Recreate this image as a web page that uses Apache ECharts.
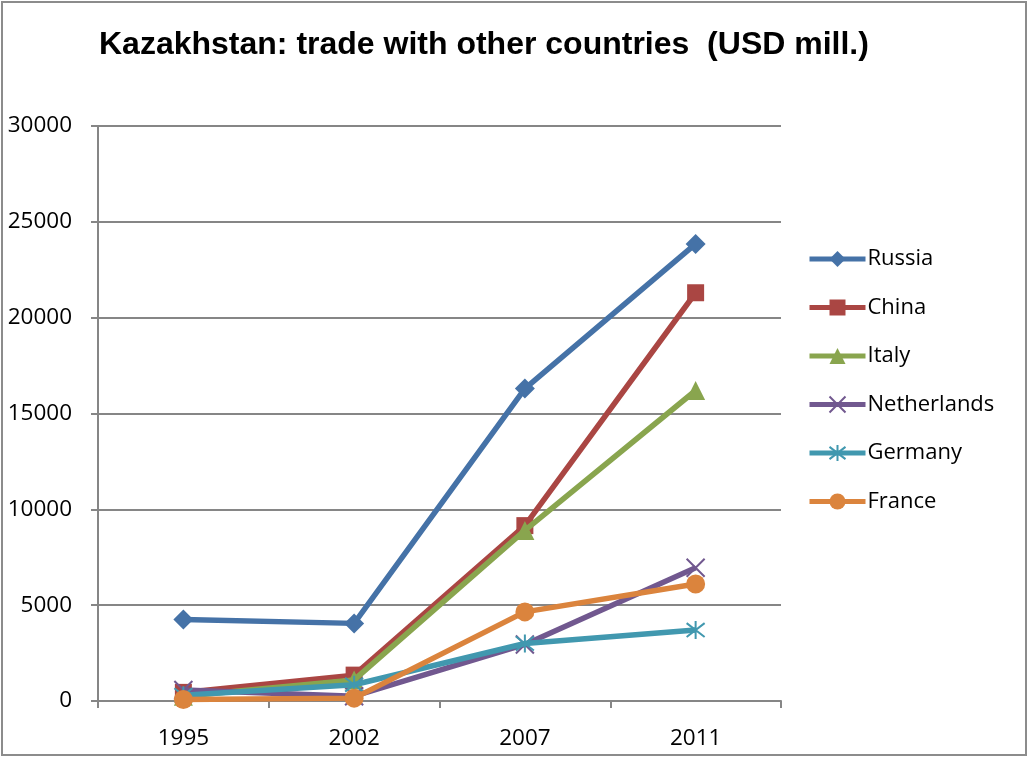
<!DOCTYPE html>
<html>
<head>
<meta charset="utf-8">
<script src="https://cdn.jsdelivr.net/npm/echarts@6/dist/echarts.min.js"></script>
<style>
html,body{margin:0;padding:0;background:#fff;}
#chart{width:1028px;height:758px;}
</style>
</head>
<body>
<div id="chart"></div>
<script>
var categories = ['1995', '2002', '2007', '2011'];
var russia      = [4250, 4050, 16300, 23850];
var china       = [450, 1350, 9150, 21300];
var italy       = [250, 1100, 8900, 16200];
var netherlands = [570, 250, 2950, 6950];
var germany     = [300, 850, 3000, 3700];
var france      = [80, 150, 4650, 6100];
var seriesNames = ['Russia', 'China', 'Italy', 'Netherlands', 'Germany', 'France'];
var yTicks = [0, 5000, 10000, 15000, 20000, 25000, 30000];

var colors = ['#4572A7', '#AA4643', '#89A54E', '#71588F', '#4198AF', '#DB843D'];
var symbols = [
  'diamond',
  'rect',
  'triangle',
  'path://M0,0L10,10M10,0L0,10',
  'path://M0,0L10,10M10,0L0,10M5,-1.5L5,11.5',
  'circle'
];
var sizes = [20, 17, 19, 18, 18, 19];
var strokeSym = [false, false, false, true, true, false];
var allData = [russia, china, italy, netherlands, germany, france];

var chart = echarts.init(document.getElementById('chart'));
var FONT = '"Open Sans", sans-serif';

var series = seriesNames.map(function (name, i) {
  return {
    name: name,
    type: 'line',
    data: allData[i],
    symbol: symbols[i],
    symbolSize: sizes[i],
    showSymbol: true,
    lineStyle: { color: colors[i], width: 5.5 },
    itemStyle: strokeSym[i]
      ? { color: colors[i], borderColor: colors[i], borderWidth: 2 }
      : { color: colors[i], borderWidth: 0 },
    emphasis: { disabled: true },
    z: 2 + i
  };
});

chart.setOption({
  animation: false,
  color: colors,
  title: {
    text: 'Kazakhstan: trade with other countries  (USD mill.)',
    left: 99,
    top: 29,
    padding: 0,
    textStyle: {
      fontFamily: '"Liberation Sans", Arial, sans-serif',
      fontWeight: 'bold',
      fontSize: 32,
      color: '#000'
    }
  },
  legend: {
    orient: 'vertical',
    left: 807,
    top: 248,
    itemWidth: 56,
    itemHeight: 20,
    itemGap: 26.5,
    padding: 0,
    lineStyle: { width: 5 },
    textStyle: { fontFamily: FONT, fontSize: 22, color: '#000', padding: [0, 0, 0, -3], lineHeight: 20 },
    data: seriesNames
  },
  grid: { left: 98, right: 247, top: 126, bottom: 57 },
  xAxis: {
    type: 'category',
    data: categories,
    boundaryGap: true,
    axisLine: { show: true, lineStyle: { color: '#868686', width: 2 } },
    axisTick: { show: true, length: 7, lineStyle: { color: '#868686', width: 2 } },
    axisLabel: { margin: 26, fontFamily: FONT, fontSize: 22.5, color: '#000' },
    splitLine: { show: false }
  },
  yAxis: {
    type: 'value',
    min: yTicks[0],
    max: yTicks[yTicks.length - 1],
    interval: yTicks[1] - yTicks[0],
    axisLine: { show: true, lineStyle: { color: '#868686', width: 2 } },
    axisTick: { show: true, length: 7, lineStyle: { color: '#868686', width: 2 } },
    axisLabel: { margin: 26, fontFamily: FONT, fontSize: 22.5, color: '#000',
      formatter: function (v) { return String(v); } },
    splitLine: { show: true, lineStyle: { color: '#868686', width: 2 } }
  },
  graphic: [{
    type: 'rect',
    shape: { x: 2, y: 2, width: 1024, height: 753 },
    style: { fill: 'none', stroke: '#8c8c8c', lineWidth: 2 },
    silent: true,
    z: 100
  }],
  series: series
});
</script>
</body>
</html>
